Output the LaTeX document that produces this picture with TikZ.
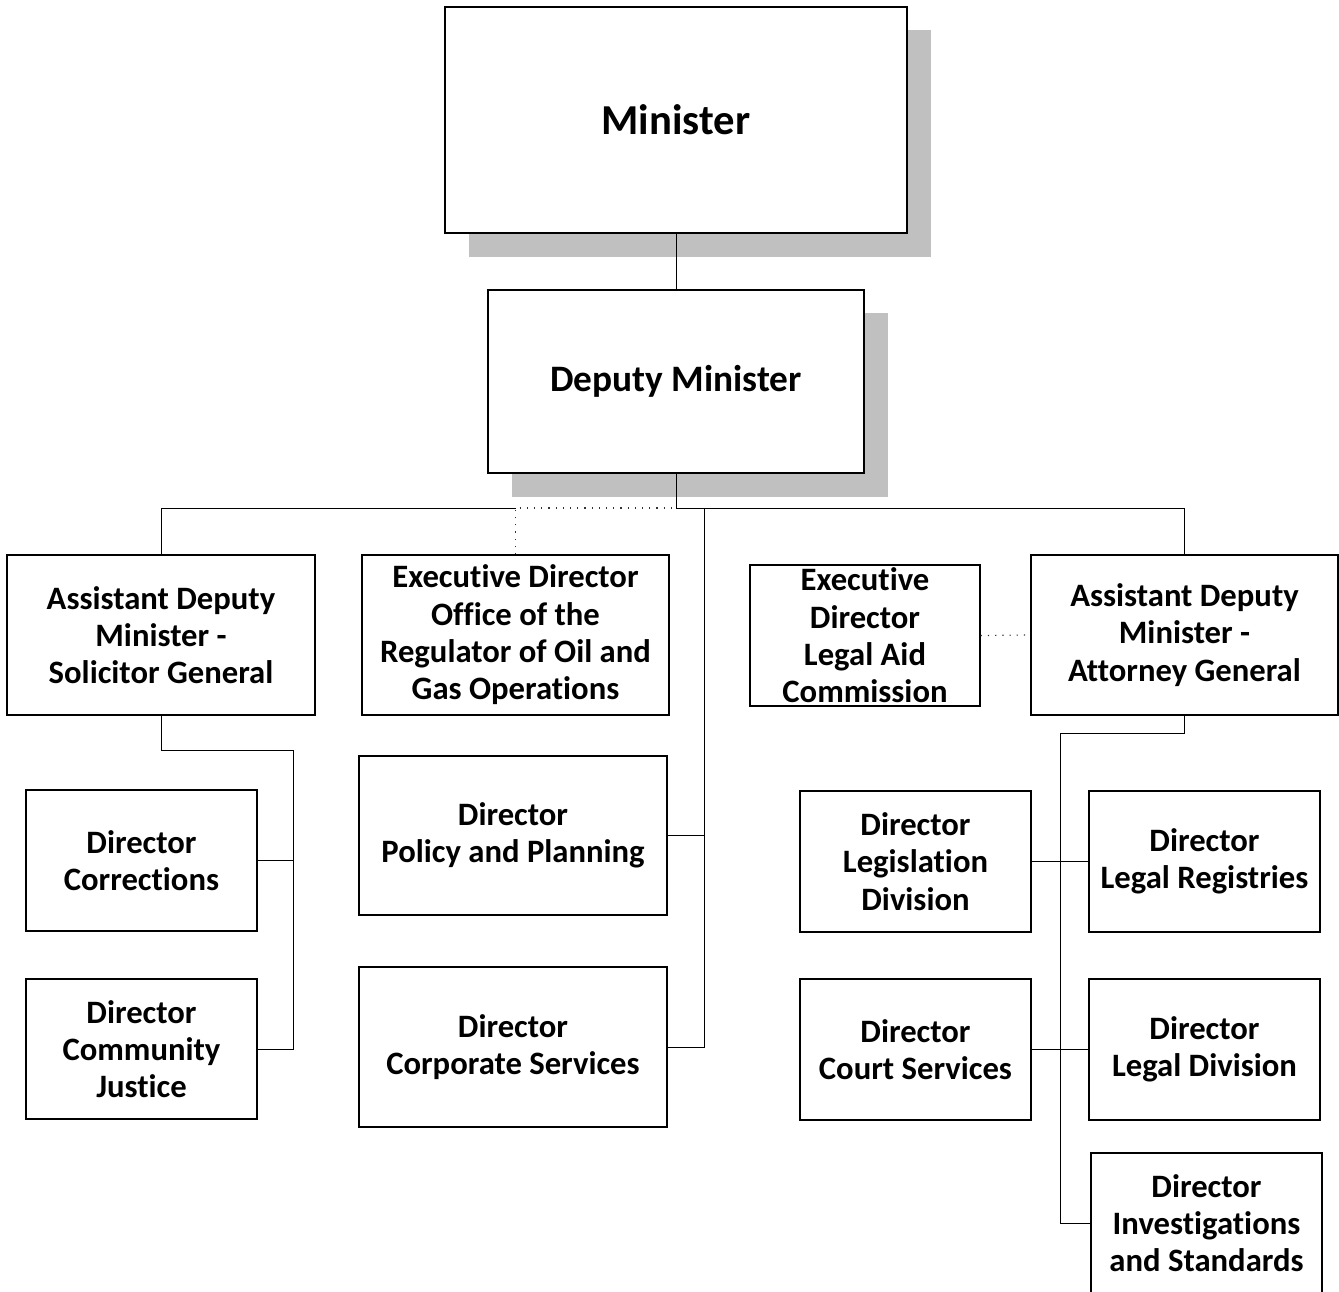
\documentclass[tikz,border=0pt]{standalone}
\usepackage{fontspec}
\setmainfont{Carlito}[Ligatures={NoCommon}]
\definecolor{shadowgray}{RGB}{192,192,192}
\tikzset{
  x=0.75pt, y=-0.75pt,
  box/.style={draw=black, line width=1.1pt, fill=white, inner sep=0pt, align=center,
    font=\bfseries\fontsize{24.5}{28}\selectfont},
  sz/.style 2 args={minimum width=#1*0.75pt, minimum height=#2*0.75pt},
  conn/.style={line width=0.75pt, draw=black},
  dotconn/.style={line width=0.9pt, draw=black!80, dash pattern=on 0.9pt off 4.5pt},
  shadowbox/.style={fill=shadowgray, draw=none}
}
\begin{document}
\begin{tikzpicture}
\useasboundingbox (0,0) rectangle (1339,1292);
% shadows
\fill[shadowgray] (469,30) rectangle (931,257);
\fill[shadowgray] (512,313) rectangle (888,497);
% top boxes
\node[box, sz={462}{226}, font=\bfseries\fontsize{32}{38}\selectfont] (min) at (676,120) {Minister};
\node[box, sz={376}{183}, font=\bfseries\fontsize{28}{34}\selectfont] (dm) at (676,381.5) {Deputy Minister};
% second level
\node[box, sz={308}{160}] (adsg) at (161,635) {Assistant Deputy\\Minister -\\Solicitor General};
\node[box, sz={307}{160}] (edo) at (515.5,635) {Executive Director\\Office of the\\Regulator of Oil and\\Gas Operations};
\node[box, sz={230}{141}] (edla) at (865,635.5) {Executive\\Director\\Legal Aid\\Commission};
\node[box, sz={307}{160}] (adag) at (1184.5,635) {Assistant Deputy\\Minister -\\Attorney General};
% left branch
\node[box, sz={231}{141}] (dcor) at (141.5,860.5) {Director\\Corrections};
\node[box, sz={231}{140}] (dcj) at (141.5,1049) {Director\\Community\\Justice};
% middle branch
\node[box, sz={308}{159}] (dpp) at (513,835.5) {Director\\Policy and Planning};
\node[box, sz={308}{160}] (dcs) at (513,1047) {Director\\Corporate Services};
% right branch
\node[box, sz={231}{141}] (dld) at (915.5,861.5) {Director\\Legislation\\Division};
\node[box, sz={231}{141}] (dlr) at (1204.5,861.5) {Director\\Legal Registries};
\node[box, sz={231}{141}] (dcrt) at (915.5,1049.5) {Director\\Court Services};
\node[box, sz={231}{141}] (dldv) at (1204.5,1049.5) {Director\\Legal Division};
\node[box, sz={231}{140}] (dis) at (1206.5,1223) {Director\\Investigations\\and Standards};
% coordinates
\coordinate (bus) at (676,508);
\coordinate (busL) at (516,508);
\coordinate (trunk) at (704,508);
\coordinate (sgT) at (293,750);
\coordinate (agT) at (1060,733);
% connectors
\draw[conn] (min.south) -- (dm.north);
\draw[conn] (dm.south) -- (bus);
\draw[conn] (bus) -| (adag.north);
\draw[conn] (adsg.north) |- (busL);
\draw[dotconn] (edo.north) |- (bus);
\draw[conn] (trunk) |- (dcs.east);
\draw[conn] (dpp.east) -- (dpp.east -| trunk);
\draw[conn] (adsg.south) |- (sgT) |- (dcj.east);
\draw[conn] (dcor.east) -- (dcor.east -| sgT);
\draw[conn] (adag.south) |- (agT) |- (dis.west);
\draw[conn] (dld.east) -- (dlr.west);
\draw[conn] (dcrt.east) -- (dldv.west);
\draw[dotconn] (edla.east) -- (adag.west);
\end{tikzpicture}
\end{document}
